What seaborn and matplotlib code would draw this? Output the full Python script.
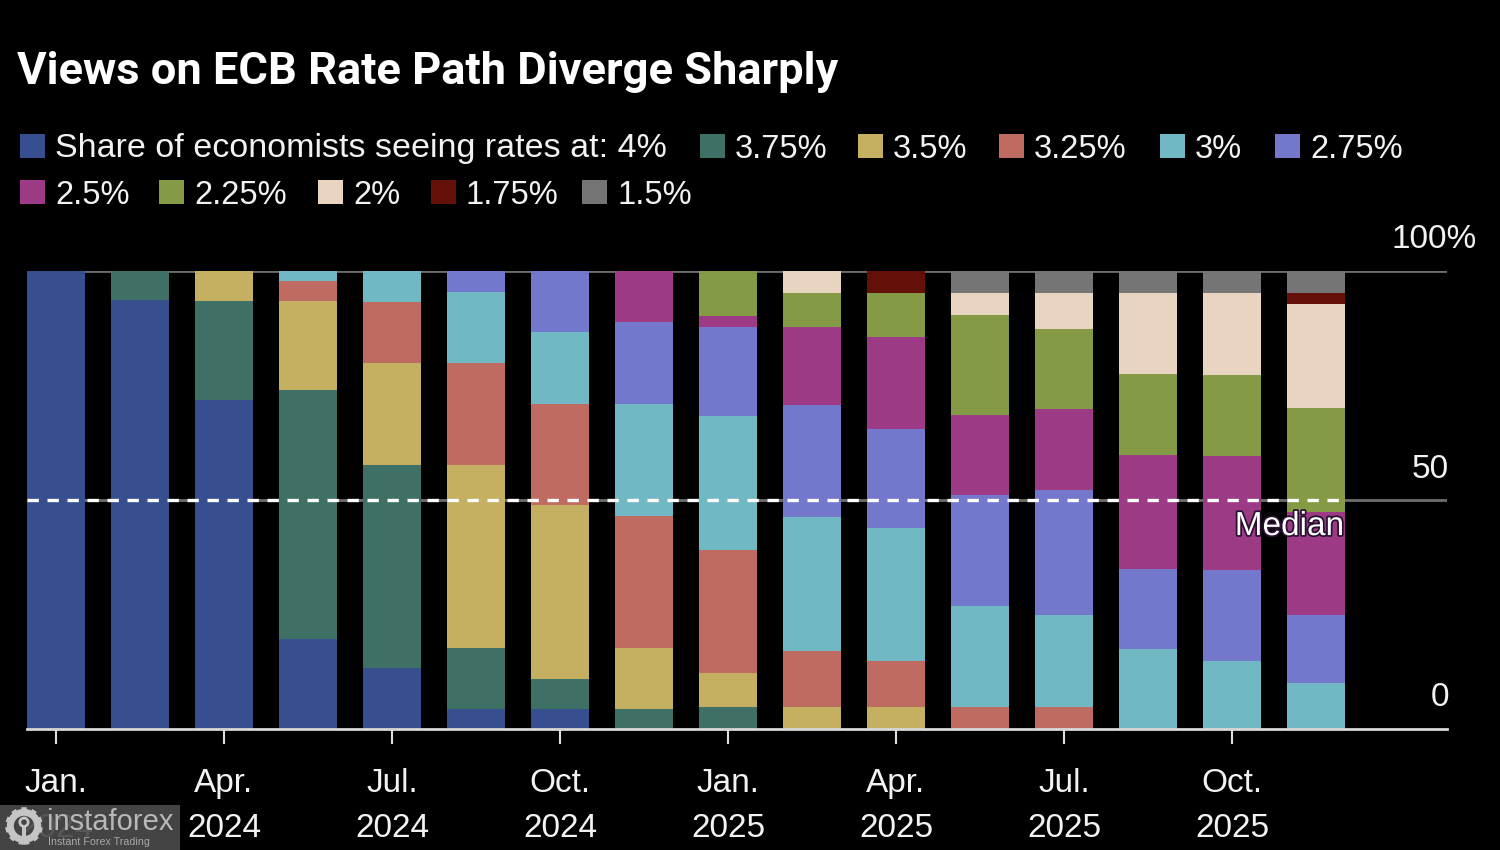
import matplotlib

matplotlib.use("Agg")
import matplotlib.patheffects as pe
import matplotlib.pyplot as plt
import pandas as pd
import seaborn as sns
from matplotlib.patches import Circle, Rectangle

W, H = 1500, 850

months = ["Jan.", "", "Apr.", "", "Jul.", "", "Oct.", "", "Jan.", "", "Apr.", "", "Jul.", "", "Oct.", ""]
years = ["2024", "", "2024", "", "2024", "", "2024", "", "2025", "", "2025", "", "2025", "", "2025", ""]

rate_levels = ["4%", "3.75%", "3.5%", "3.25%", "3%", "2.75%", "2.5%", "2.25%", "2%", "1.75%", "1.5%"]

rate_400 = [100, 93.75, 71.8, 19.6, 13.3, 4.4, 4.4, 0, 0, 0, 0, 0, 0, 0, 0, 0]
rate_375 = [0, 6.25, 21.6, 54.4, 44.3, 13.3, 6.5, 4.4, 4.8, 0, 0, 0, 0, 0, 0, 0]
rate_350 = [0, 0, 6.6, 19.4, 22.3, 40, 38, 13.3, 7.4, 4.8, 4.8, 0, 0, 0, 0, 0]
rate_325 = [0, 0, 0, 4.4, 13.3, 22.3, 22, 28.8, 26.9, 12.2, 10, 4.8, 4.8, 0, 0, 0]
rate_300 = [0, 0, 0, 2.2, 6.8, 15.5, 15.7, 24.5, 29.3, 29.3, 29, 22, 20, 17.5, 14.8, 10]
rate_275 = [0, 0, 0, 0, 0, 4.5, 13.4, 17.9, 19.4, 24.5, 21.8, 24.2, 27.3, 17.5, 20, 14.8]
rate_250 = [0, 0, 0, 0, 0, 0, 0, 11.1, 2.4, 17, 19.9, 17.5, 17.8, 24.9, 24.9, 22.5]
rate_225 = [0, 0, 0, 0, 0, 0, 0, 0, 9.8, 7.4, 9.8, 21.8, 17.5, 17.7, 17.7, 22.7]
rate_200 = [0, 0, 0, 0, 0, 0, 0, 0, 0, 4.8, 0, 5, 7.7, 17.7, 17.7, 22.7]
rate_175 = [0, 0, 0, 0, 0, 0, 0, 0, 0, 0, 4.7, 0, 0, 0, 0, 2.4]
rate_150 = [0, 0, 0, 0, 0, 0, 0, 0, 0, 0, 0, 4.7, 4.9, 4.7, 4.9, 4.9]

colors = ["#374f8f", "#3f7066", "#c4b060", "#bf6b62", "#70b8c4", "#7378cc",
          "#9c3a85", "#849a45", "#e8d4c0", "#631008", "#757575"]


def fx(x):
    return x / W


def fy(y):
    return 1 - y / H


sns.set_theme(style="dark")
plt.rcParams["font.family"] = ["Liberation Sans", "DejaVu Sans"]

series = [rate_400, rate_375, rate_350, rate_325, rate_300, rate_275,
          rate_250, rate_225, rate_200, rate_175, rate_150]
rows = []
for level, values in zip(rate_levels, series):
    for i, value in enumerate(values):
        if value > 0:
            rows.append({"bar": i, "level": level, "share": value})
df = pd.DataFrame(rows)

fig = plt.figure(figsize=(W / 100, H / 100), dpi=100, facecolor="black")
ax = fig.add_axes([fx(27), fy(729), fx(1447 - 27), (729 - 271) / H])
ax.set_facecolor("black")
ax.set_axisbelow(True)

ax.axhline(100, color="#6e6e6e", lw=2, zorder=1)
ax.axhline(50, color="#6e6e6e", lw=2, zorder=1)

sns.histplot(
    data=df, x="bar", weights="share", hue="level",
    hue_order=rate_levels[::-1], palette=dict(zip(rate_levels, colors)),
    multiple="stack", discrete=True, shrink=0.7, alpha=1, linewidth=0,
    legend=False, ax=ax,
)

ax.set_xlim((27 - 56) / 84, (1447 - 56) / 84)
ax.set_ylim(0, 100)
ax.set_xlabel("")
ax.set_ylabel("")
ax.grid(False)
for name, spine in ax.spines.items():
    spine.set_visible(name == "bottom")
ax.spines["bottom"].set_color("#d8d8d8")
ax.spines["bottom"].set_linewidth(2)

tick_pos = [i for i, m in enumerate(months) if m]
ax.set_xticks(tick_pos)
ax.set_xticklabels(
    [f"{months[i]}\n{years[i]}" for i in tick_pos],
    color="#f2f2f2", fontsize=24, linespacing=1.58,
)
ax.tick_params(axis="x", length=11, width=1.5, color="#e0e0e0", pad=17, bottom=True)
ax.set_yticks([])

# median line stops at the last bar
ax.plot([ax.get_xlim()[0], 15.335], [50, 50], color="white", lw=2.4,
        dashes=(3.4, 2.6), zorder=5)

ax.text(15.335, 44.2, "Median", ha="right", va="center", color="white", fontsize=24, zorder=6,
        path_effects=[pe.withStroke(linewidth=2.5, foreground="#2a1030")])

fig.text(fx(1477), fy(240), "100%", ha="right", va="center", color="#f2f2f2", fontsize=24)
fig.text(fx(1449), fy(469), "50", ha="right", va="center", color="#f2f2f2", fontsize=24)
fig.text(fx(1449), fy(697), "0", ha="right", va="center", color="#f2f2f2", fontsize=24)

fig.text(fx(17), fy(72), "Views on ECB Rate Path Diverge Sharply", ha="left", va="center",
         color="white", fontsize=32.6, fontweight="bold", family=["Roboto", "DejaVu Sans"])

# legend, laid out by hand because of the lead-in text on the first entry
legend_rows = [
    (146, [(20, 0), (700, 1), (858, 2), (999, 3), (1160, 4), (1275, 5)]),
    (192, [(20, 6), (159, 7), (318, 8), (431, 9), (582, 10)]),
]
for y, entries in legend_rows:
    for x, idx in entries:
        fig.add_artist(Rectangle((fx(x), fy(y + 12)), 25 / W, 24 / H, transform=fig.transFigure,
                                 facecolor=colors[idx], edgecolor="none"))
        label = rate_levels[idx]
        size = 23.5
        if idx == 0:
            label = "Share of economists seeing rates at: " + label
            size = 24.5
        fig.text(fx(x + 35), fy(y + 3), label, ha="left", va="center", color="#f2f2f2", fontsize=size)

# watermark in the corner
fig.add_artist(Rectangle((0, 0), 180 / W, 45 / H, transform=fig.transFigure,
                         facecolor="#4a4a4a", edgecolor="none", alpha=0.93, zorder=10))
fig.text(fx(47), fy(822), "instaforex", ha="left", va="center", color="#b8b8b8", fontsize=21, zorder=11)
fig.text(fx(48), fy(842), "Instant Forex Trading", ha="left", va="center", color="#a8a8a8", fontsize=7.7, zorder=11)
logo = fig.add_axes([fx(5), fy(845), 38 / W, 38 / H])
logo.set_xlim(-1, 1)
logo.set_ylim(-1, 1)
logo.axis("off")
logo.patch.set_alpha(0)
logo.set_zorder(12)
logo.add_patch(Circle((0, 0), 0.72, fill=False, ec="#c4c4c4", lw=5))
logo.add_patch(Circle((0, 0), 0.88, fill=False, ec="#c4c4c4", lw=3, ls=(0, (1.2, 1.2))))
logo.add_patch(Circle((0, 0.2), 0.22, fill=False, ec="#c4c4c4", lw=2))
logo.add_patch(Rectangle((-0.1, -0.6), 0.2, 0.6, fc="#c4c4c4", ec="none"))

fig.savefig("out.png", dpi=100, facecolor="black")
